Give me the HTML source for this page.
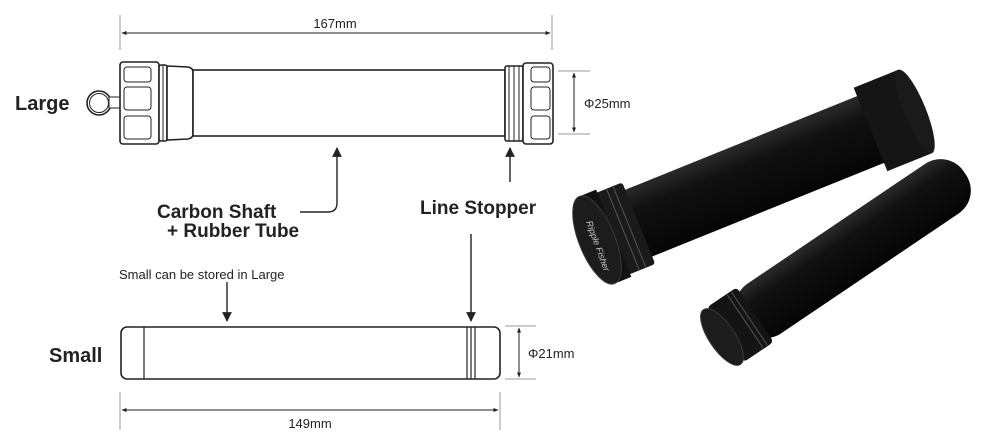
<!DOCTYPE html>
<html><head><meta charset="utf-8"><style>
html,body{margin:0;padding:0;background:#fff;}
svg{display:block;}
text{font-family:"Liberation Sans","DejaVu Sans",sans-serif;fill:#222;}
.b{font-weight:bold;}
</style></head><body>
<svg width="1000" height="444" viewBox="0 0 1000 444" xmlns="http://www.w3.org/2000/svg">
<defs>
<marker id="ah" viewBox="0 0 10 10" refX="9" refY="5" markerWidth="7" markerHeight="7" orient="auto-start-reverse"><path d="M0,0 L10,5 L0,10 z" fill="#222"/></marker>
<marker id="as" viewBox="0 0 10 10" refX="9" refY="5" markerWidth="5" markerHeight="5" orient="auto-start-reverse"><path d="M0,1 L10,5 L0,9 z" fill="#222"/></marker>
<linearGradient id="g1" x1="0" y1="0" x2="0" y2="1"><stop offset="0" stop-color="#2a2a2a"/><stop offset="0.3" stop-color="#111"/><stop offset="1" stop-color="#050505"/></linearGradient>
</defs>
<g stroke="#999" stroke-width="1" fill="none">
<line x1="120" y1="15" x2="120" y2="50"/><line x1="552" y1="15" x2="552" y2="50"/>
<line x1="558" y1="71" x2="590" y2="71"/><line x1="558" y1="134" x2="590" y2="134"/>
<line x1="505" y1="326" x2="536" y2="326"/><line x1="505" y1="379" x2="536" y2="379"/>
<line x1="120" y1="392" x2="120" y2="430"/><line x1="500" y1="392" x2="500" y2="430"/>
</g>
<g stroke="#222" stroke-width="1" fill="none">
<line x1="122" y1="33" x2="550" y2="33" marker-start="url(#as)" marker-end="url(#as)"/>
<line x1="574" y1="73" x2="574" y2="132" marker-start="url(#as)" marker-end="url(#as)"/>
<line x1="519" y1="328" x2="519" y2="377" marker-start="url(#as)" marker-end="url(#as)"/>
<line x1="122" y1="410" x2="498" y2="410" marker-start="url(#as)" marker-end="url(#as)"/>
</g>
<text x="335" y="28" font-size="13" text-anchor="middle">167mm</text>
<text x="584" y="108" font-size="13">Φ25mm</text>
<text x="528" y="358" font-size="13">Φ21mm</text>
<text x="310" y="428" font-size="13" text-anchor="middle">149mm</text>
<g stroke="#222" stroke-width="1.6" fill="#fff">
<circle cx="99" cy="103" r="12"/><circle cx="99" cy="103" r="9.5" stroke-width="1"/>
<rect x="109" y="97" width="11" height="11" stroke-width="1"/>
<rect x="120" y="62" width="39" height="82" rx="3"/>
<rect x="159" y="65" width="8" height="76" rx="2"/>
<path d="M167,66 L188,67 Q193,68 193,72 L193,134 Q193,138 188,139 L167,140 z"/>
<rect x="193" y="70" width="312" height="66"/>
<rect x="505" y="66" width="18" height="75" rx="2"/>
<rect x="523" y="63" width="30" height="81" rx="3"/>
</g>
<g stroke="#222" stroke-width="1" fill="none">
<rect x="124" y="67" width="27" height="15" rx="3"/><rect x="124" y="87" width="27" height="23" rx="3"/><rect x="124" y="116" width="27" height="23" rx="3"/>
<rect x="531" y="67" width="19" height="15" rx="3"/><rect x="531" y="87" width="19" height="23" rx="3"/><rect x="531" y="116" width="19" height="23" rx="3"/>
<line x1="509" y1="66" x2="509" y2="141"/><line x1="514" y1="66" x2="514" y2="141"/><line x1="519" y1="66" x2="519" y2="141"/>
<line x1="163" y1="65" x2="163" y2="141"/>
</g>
<text x="15" y="110" font-size="20" class="b">Large</text>
<g stroke="#222" stroke-width="1.4" fill="none">
<path d="M300,212 L328,212 Q337,212 337,203 L337,148" marker-end="url(#ah)"/>
<line x1="510" y1="182" x2="510" y2="148" marker-end="url(#ah)"/>
<line x1="471" y1="234" x2="471" y2="321" marker-end="url(#ah)"/>
<line x1="227" y1="282" x2="227" y2="321" marker-end="url(#ah)"/>
</g>
<text x="157" y="218" font-size="19" class="b">Carbon Shaft</text>
<text x="167" y="237" font-size="19" class="b">+ Rubber Tube</text>
<text x="420" y="214" font-size="19" class="b">Line Stopper</text>
<text x="119" y="279" font-size="13">Small can be stored in Large</text>
<g stroke="#222" stroke-width="1.6" fill="#fff">
<rect x="121" y="327" width="379" height="52" rx="6"/>
</g>
<g stroke="#222" stroke-width="1.2">
<line x1="144" y1="327" x2="144" y2="379"/>
<line x1="467" y1="327" x2="467" y2="379"/><line x1="471" y1="327" x2="471" y2="379"/><line x1="475" y1="327" x2="475" y2="379"/>
</g>
<text x="49" y="362" font-size="20" class="b">Small</text>
<g transform="rotate(-22 597 240)">
<rect x="630" y="204" width="270" height="72" fill="url(#g1)"/>
<rect x="892" y="195" width="48" height="90" fill="#151515"/>
<ellipse cx="940" cy="240" rx="11" ry="45" fill="#1a1a1a"/>
<rect x="612" y="196" width="30" height="88" rx="3" fill="#1a1a1a"/>
<line x1="625" y1="197" x2="625" y2="283" stroke="#555" stroke-width="1"/>
<line x1="632" y1="197" x2="632" y2="283" stroke="#555" stroke-width="1"/>
<rect x="597" y="193" width="18" height="94" fill="#111"/>
<ellipse cx="597" cy="240" rx="18" ry="47" fill="#1c1c1c" stroke="#3a3a3a"/>
</g>
<text x="586" y="222" font-size="9" style="fill:#ccc" transform="rotate(70 586 222)" font-style="italic">Ripple Fisher</text>
<g transform="rotate(-34 722 337)">
<rect x="745" y="307" width="270" height="60" rx="28" fill="url(#g1)"/>
<rect x="726" y="304" width="36" height="66" rx="4" fill="#141414"/>
<line x1="750" y1="305" x2="750" y2="369" stroke="#555"/>
<line x1="755" y1="305" x2="755" y2="369" stroke="#555"/>
<ellipse cx="722" cy="337" rx="13" ry="33" fill="#1c1c1c" stroke="#3a3a3a"/>
</g>
</svg>
</body></html>
